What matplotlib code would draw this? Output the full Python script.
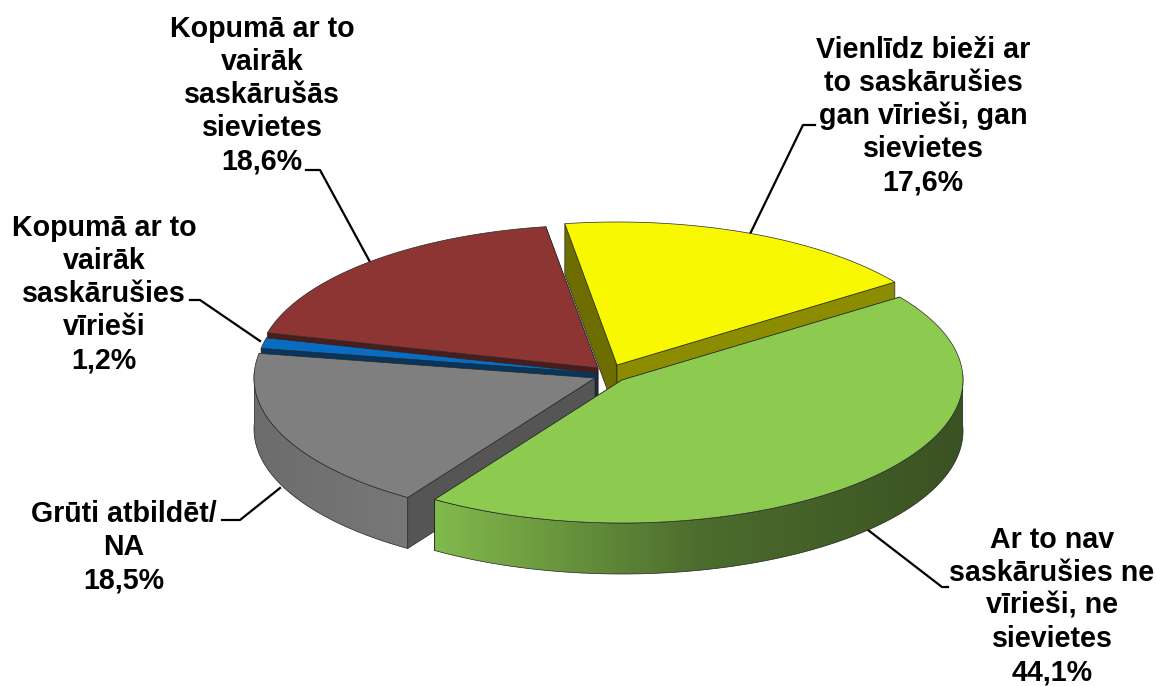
import numpy as np
import matplotlib
matplotlib.use('Agg')
import matplotlib.pyplot as plt
from matplotlib.colors import to_rgb
from matplotlib.patches import Polygon

plt.rcParams['font.family'] = ['Liberation Sans', 'DejaVu Sans']

# dati
nosaukumi = ['Vienlīdz bieži ar\nto saskārušies\ngan vīrieši, gan\nsievietes',
             'Ar to nav\nsaskārušies ne\nvīrieši, ne\nsievietes',
             'Grūti atbildēt/\nNA',
             'Kopumā ar to\nvairāk\nsaskārušies\nvīrieši',
             'Kopumā ar to\nvairāk\nsaskārušās\nsievietes']
vertibas = [17.6, 44.1, 18.5, 1.2, 18.6]
etiketes = ['17,6%', '44,1%', '18,5%', '1,2%', '18,6%']

krasas = ['#f8f800', '#8ccb50', '#7f7f7f', '#0a6cc0', '#8c3533']
griezums_sak = ['#6e6e00', '#3f5c24', '#555555', '#06365f', '#4a1c1b']
griezums_beig = ['#8c8c00', '#5a8038', '#555555', '#06365f', '#4a1c1b']
loka_krasas = [['#8c8c00', '#8c8c00'],
               ['#82ba4c', '#4c6c2d', '#3a5222'],
               ['#6c6c6c', '#787878'],
               ['#0a4a80', '#0a4a80'],
               ['#5a2220', '#5a2220']]

# katras daļas centrs (izvirzījums), pikseļos
centri = [(617, 365), (622, 380), (595, 378), (597, 373), (598, 368)]
A, B = 341, 143
BIEZUMS = 51
SAKUMS = 98.8
SECIBA = [4, 3, 2, 0, 1]  # no aizmugures uz priekšu

fig = plt.figure(figsize=(11.56, 6.86), dpi=100)
ax = fig.add_axes([0, 0, 1, 1])


def loks(c, t0, t1, n=160):
    t = np.radians(np.linspace(t0, t1, n))
    return np.column_stack([c[0] + A * np.cos(t), c[1] - B * np.sin(t)])


def gradienta_siena(poligons, krasu_saraksts, z):
    # horizontāls gradients caur izgrieztu attēlu
    p = Polygon(poligons, closed=True, fc='none', ec='#222222', lw=0.5, zorder=z + 0.001)
    ax.add_patch(p)
    rgb = np.array([to_rgb(k) for k in krasu_saraksts])
    g = np.linspace(0, 1, 256)
    mezgli = np.linspace(0, 1, len(rgb))
    att = np.dstack([np.interp(g, mezgli, rgb[:, k]) for k in range(3)])
    x0, x1 = poligons[:, 0].min(), poligons[:, 0].max()
    y0, y1 = poligons[:, 1].min(), poligons[:, 1].max()
    im = ax.imshow(att, extent=[x0, x1, y1, y0], aspect='auto', zorder=z)
    im.set_clip_path(p)


robezas = SAKUMS - np.cumsum([0] + vertibas) * 3.6

for n, i in enumerate(SECIBA):
    z = 2 + n
    c = np.array(centri[i], float)
    mala = loks(centri[i], robezas[i], robezas[i + 1])
    # griezuma sienas: vispirms tā, kas tālāk
    sienas = sorted([(mala[0], griezums_sak[i]), (mala[-1], griezums_beig[i])], key=lambda s: s[0][1])
    for k, (pt, kr) in enumerate(sienas):
        siena = np.array([c, pt, pt + [0, BIEZUMS], c + [0, BIEZUMS]])
        ax.add_patch(Polygon(siena, closed=True, fc=kr, ec='#222222', lw=0.5, zorder=z + k * 0.01))
    # ārējā siena tikai priekšpusē
    t = np.linspace(robezas[i], robezas[i + 1], 160)
    redz = np.sin(np.radians(t)) < 0.05
    if redz.any():
        m = mala[redz]
        gradienta_siena(np.vstack([m, (m + [0, BIEZUMS])[::-1]]), loka_krasas[i], z + 0.1)
    # augšējā virsma
    ax.add_patch(Polygon(np.vstack([c, mala]), closed=True, fc=krasas[i], ec='#2a2a2a',
                         lw=0.5, zorder=z + 0.2))

ax.set_xlim(0, 1156)
ax.set_ylim(686, 0)
ax.axis('off')

# etiķetes
poz = [(923, 116), (1052, 606), (124, 547), (104, 294), (262, 95)]
for nos, et, (x, y) in zip(nosaukumi, etiketes, poz):
    ax.text(x, y, nos + '\n' + et, ha='center', va='center', fontsize=20.6,
            fontweight='bold', color='black', linespacing=1.23, zorder=20)

# līnijas no etiķetēm uz daļām
liknes = [([750, 803, 815], [234, 125, 125]),
          ([868, 942, 948], [530, 587, 587]),
          ([280, 240, 222], [488, 520, 520]),
          ([260, 200, 190], [341, 300, 300]),
          ([370, 320, 306], [262, 170, 170])]
for xs, ys in liknes:
    ax.plot(xs, ys, color='black', lw=1.6, zorder=1)

fig.savefig('out.png', dpi=100)
